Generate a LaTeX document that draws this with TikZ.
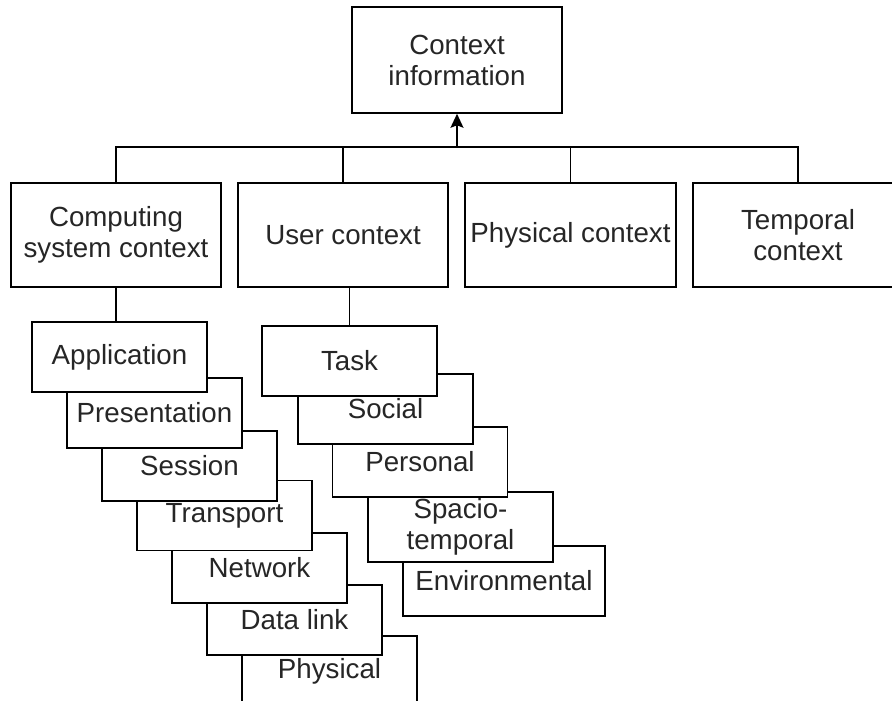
\documentclass[tikz,border=0pt]{standalone}
\usepackage{fontspec}
\setmainfont{Liberation Sans}
\usetikzlibrary{arrows.meta}
\begin{document}
\begin{tikzpicture}[x=1pt,y=-1pt,
  box/.style={draw=black, fill=white, line width=1.6pt, inner sep=0pt,
    align=center, font=\fontsize{27.7}{31}\selectfont, text=black!85},
  wide/.style={box, minimum width=210pt, minimum height=105pt},
  layer/.style={box, minimum width=175pt, minimum height=70pt},
  link/.style={line width=1.6pt, draw=black},
  up/.style={link, -{Stealth[length=14pt,width=13pt,inset=2.5pt]}}]
\clip (0,0) rectangle (892,701);
\fill[white] (0,0) rectangle (892,701);

% root and the four kinds of context
\node[wide, minimum height=106pt] (ctx) at (457,60) {Context\\information};
\node[wide, minimum height=104pt] (comp) at (116,235) {Computing\\system context};
\node[wide, minimum height=104pt] (user) at (343,235) {User context};
\node[wide, minimum height=104pt, minimum width=211pt] (phys) at (570.5,235) {Physical context};
\node[wide, minimum height=104pt] (temp) at (798,235) {Temporal\\context};

\coordinate (bus) at (457,147);
\draw[link] (comp.north) |- (bus) -| (temp.north);
\draw[link] (user.north) -- (user.north |- bus);
\draw[link] (phys.north) -- (phys.north |- bus);
\draw[up] (bus) -- (ctx.south);

% protocol layers, drawn bottom-up so each upper layer covers the next
\node[layer] (physl) at (329.5,671) {Physical};
\node[layer] (dlink) at (294.5,620) {Data link};
\node[layer] (netw)  at (259.5,568) {Network};
\node[layer] (trans) at (224.5,515.5) {Transport};
\node[layer] (sess)  at (189.5,466) {Session};
\node[layer] (pres)  at (154.5,413) {Presentation};
\node[layer] (appl)  at (119.5,357) {Application};
\draw[link] (comp.south) -- (comp.south |- appl.north);

% facets of the user context
\node[layer, minimum width=202pt] (env) at (504,581) {Environmental};
\node[layer, minimum width=185pt] (spt) at (460.5,527) {Spacio-\\temporal};
\node[layer] (pers) at (420,462) {Personal};
\node[layer] (soc)  at (385.5,409) {Social};
\node[layer] (task) at (349.5,361) {Task};
\draw[link] (task.north) -- (task.north |- user.south);
\end{tikzpicture}
\end{document}
